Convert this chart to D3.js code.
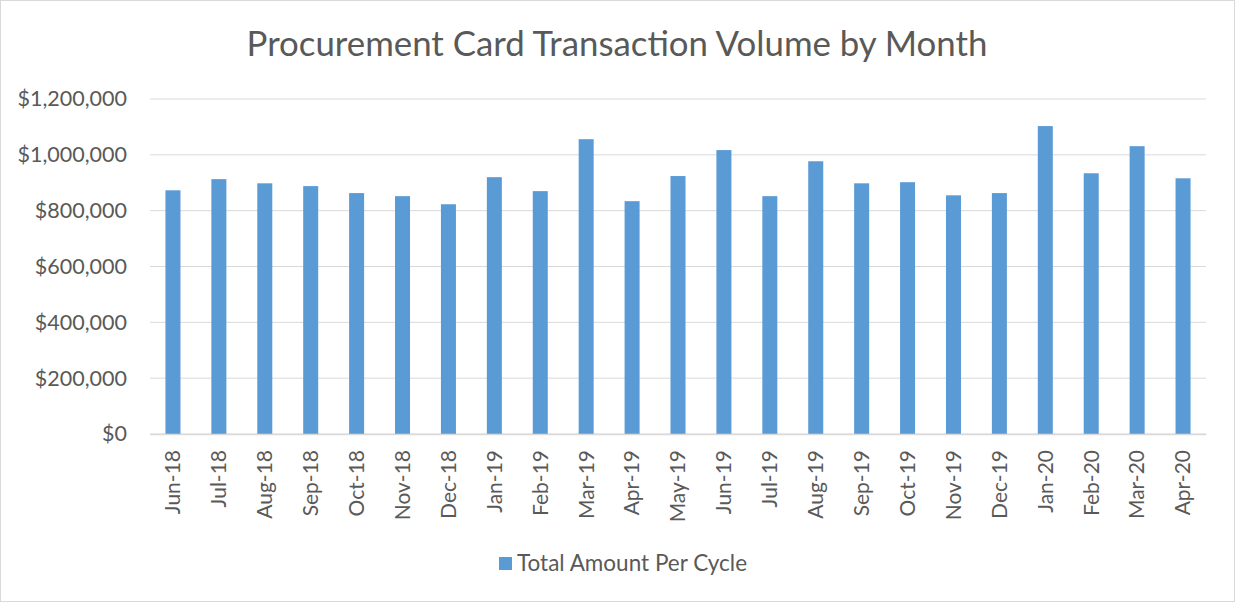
<!DOCTYPE html>
<html>
<head>
<meta charset="utf-8">
<script src="https://cdn.jsdelivr.net/npm/d3@7"></script>
<style>
  html, body { margin: 0; padding: 0; background: #fff; }
  svg text { font-family: Lato, "Open Sans", sans-serif; fill: #595959; }
</style>
</head>
<body>
<div id="chart"></div>
<script>
// chart data
const months = ['Jun-18', 'Jul-18', 'Aug-18', 'Sep-18', 'Oct-18', 'Nov-18', 'Dec-18',
  'Jan-19', 'Feb-19', 'Mar-19', 'Apr-19', 'May-19', 'Jun-19', 'Jul-19', 'Aug-19',
  'Sep-19', 'Oct-19', 'Nov-19', 'Dec-19', 'Jan-20', 'Feb-20', 'Mar-20', 'Apr-20'];
const totalAmount = [873000, 913000, 898000, 888000, 863000, 852000, 823000,
  920000, 870000, 1056000, 834000, 924000, 1017000, 852000, 977000,
  898000, 902000, 855000, 863000, 1103000, 934000, 1031000, 916000];
const yTicks = [0, 200000, 400000, 600000, 800000, 1000000, 1200000];
const seriesName = 'Total Amount Per Cycle';
const chartTitle = 'Procurement Card Transaction Volume by Month';

const width = 1235, height = 602;
const margin = { top: 99, right: 29, bottom: 168, left: 150 };
const innerW = width - margin.left - margin.right;
const innerH = height - margin.top - margin.bottom;

const svg = d3.select('#chart')
  .append('svg')
  .attr('width', width)
  .attr('height', height);

// outer frame
svg.append('rect')
  .attr('x', 0.5).attr('y', 0.5)
  .attr('width', width - 1).attr('height', height - 1)
  .attr('fill', '#fff')
  .attr('stroke', '#d9d9d9');

const g = svg.append('g')
  .attr('transform', `translate(${margin.left},${margin.top})`);

const x = d3.scaleBand()
  .domain(months)
  .range([0, innerW])
  .paddingInner(0.673)
  .paddingOuter(0.3365);

const y = d3.scaleLinear()
  .domain([0, 1200000])
  .range([innerH, 0]);

// gridlines
g.append('g')
  .selectAll('line')
  .data(yTicks)
  .join('line')
  .attr('x1', 0).attr('x2', innerW)
  .attr('y1', d => y(d)).attr('y2', d => y(d))
  .attr('stroke', '#d9d9d9')
  .attr('stroke-width', 1);

// y axis
const yAxis = d3.axisLeft(y)
  .tickValues(yTicks)
  .tickSize(0)
  .tickPadding(23)
  .tickFormat(d => '$' + d3.format(',')(d));

g.append('g')
  .call(yAxis)
  .call(s => s.select('.domain').remove())
  .selectAll('text')
  .style('font-size', '21.5px');

// bars
g.selectAll('.bar')
  .data(months)
  .join('rect')
  .attr('class', 'bar')
  .attr('x', d => x(d))
  .attr('y', (d, i) => y(totalAmount[i]))
  .attr('width', x.bandwidth())
  .attr('height', (d, i) => innerH - y(totalAmount[i]))
  .attr('fill', '#5b9bd5');

// x axis
const xAxis = d3.axisBottom(x).tickSize(0).tickPadding(0);
g.append('g')
  .attr('transform', `translate(0,${innerH})`)
  .call(xAxis)
  .call(s => s.select('.domain').attr('stroke', '#d9d9d9').attr('stroke-width', 1.5))
  .selectAll('text')
  .style('font-size', '21px')
  .attr('transform', 'rotate(-90)')
  .attr('text-anchor', 'end')
  .attr('dx', '-16px')
  .attr('dy', '0.35em')
  .attr('x', 0).attr('y', 0);

// title
svg.append('text')
  .attr('x', 617)
  .attr('y', 56)
  .attr('text-anchor', 'middle')
  .style('font-size', '34.8px')
  .text(chartTitle);

// legend
const legend = svg.append('g').attr('transform', 'translate(499,557)');
legend.append('rect')
  .attr('width', 13).attr('height', 13)
  .attr('fill', '#5b9bd5');
legend.append('text')
  .attr('x', 18).attr('y', 6.5)
  .attr('dy', '0.35em')
  .style('font-size', '22.5px')
  .text(seriesName);
</script>
</body>
</html>
